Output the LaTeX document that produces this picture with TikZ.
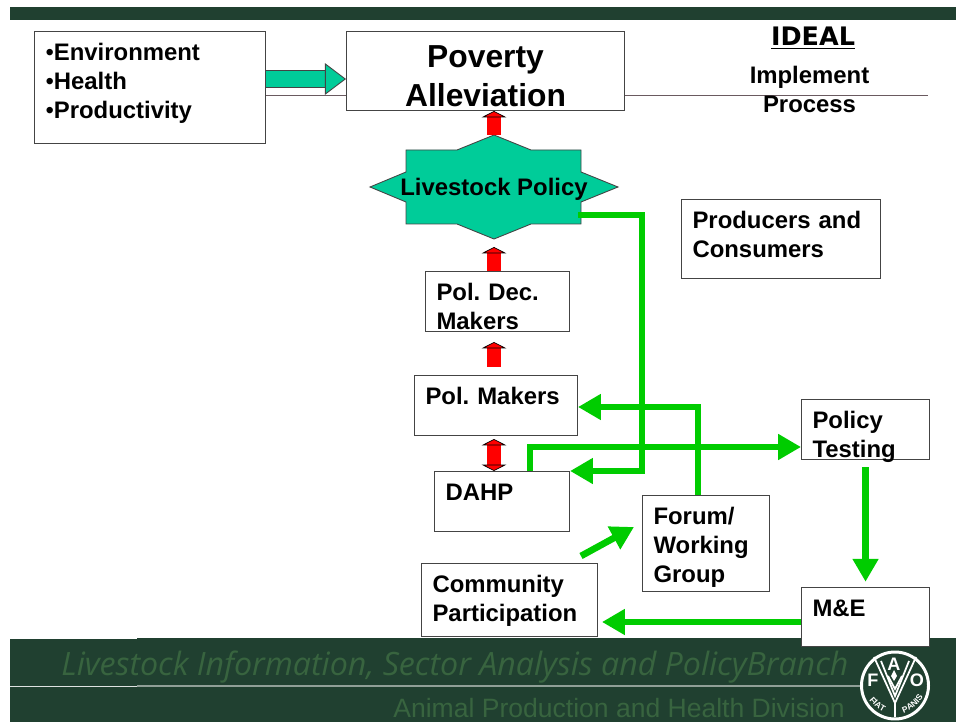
\documentclass[tikz,border=0pt]{standalone}
\usepackage{fontspec}
\setmainfont{Liberation Sans}
\newfontfamily\idealfont{DejaVu Sans}
\newfontfamily\footerfont{Open Sans}
\usetikzlibrary{positioning,arrows.meta,decorations.text}
\definecolor{slidegreen}{HTML}{204030}
\definecolor{footertext}{HTML}{38643F}
\definecolor{teal}{HTML}{00CC99}
\definecolor{flowgreen}{HTML}{00CC00}
\definecolor{rulecolor}{HTML}{6A5A60}
\definecolor{boxline}{HTML}{444444}
\tikzset{
    slidebox/.style 2 args={draw=boxline, fill=white, line width=0.6pt, anchor=north west,
        inner xsep={11*0.5692pt}, inner ysep=0pt, text width={(#1-23)*0.5692pt},
        text height={29*0.5692pt}, text depth={(#2-29)*0.5692pt}, align=left,
        font=\fontsize{13.6}{16.5}\selectfont\bfseries},
    flow/.style={draw=flowgreen, line width=3.8pt, -{Triangle[length=13pt,width=14pt]}},
    redup/.style={double=red, draw=black, line width=0.4pt, double distance=7.6pt,
        -{Triangle[length=3.6pt,width=14pt,fill=red,color=black,line width=0.4pt]}},
    redboth/.style={double=red, draw=black, line width=0.4pt, double distance=7.6pt,
        {Triangle[length=3.6pt,width=14pt,fill=red,color=black,line width=0.4pt]}-{Triangle[length=3.6pt,width=14pt,fill=red,color=black,line width=0.4pt]}},
    tealarrow/.style={double=teal, draw=boxline, line width=0.5pt, double distance=9pt,
        -{Triangle[length=12pt,width=18pt,fill=teal,color=boxline,line width=0.5pt]}},
    logoletter/.style={text=white, inner sep=0pt, font=\fontsize{10.3}{12}\selectfont\bfseries},
    logostroke/.style={draw=white, line width=1pt},
    logoarc/.style={decorate, decoration={text along path, text align=center,
        text={|\fontsize{4.8}{5}\selectfont\bfseries\color{white}|#1}}},
}
\begin{document}
\frenchspacing
\begin{tikzpicture}[x=0.02cm, y=-0.02cm]
    \useasboundingbox (0,0) rectangle (956,722);

    % slide bands
    \fill[slidegreen] (10,7) rectangle (956,20);
    \fill[slidegreen] (10,639) rectangle (956,722);
    \fill[slidegreen] (137,638) rectangle (956,640);
    \draw[white!85!slidegreen, line width=0.5pt] (10,686.5) -- (137,686.5);
    \draw[white!50!slidegreen, line width=1pt] (137,686) -- (862,686);

    % rule behind the top boxes
    \coordinate (rulestart) at (266,95);
    \coordinate (ruleend) at (928,95);
    \draw[rulecolor, line width=0.5pt] (rulestart) -- (ruleend);

    % top row
    \node[slidebox={232}{112}] (envbox) at (34,31) {{\mdseries •}Environment\\{\mdseries •}Health\\{\mdseries •}Productivity};
    \node[slidebox={279}{79}, text height={36*0.5692pt}, text depth={43*0.5692pt}, align=center,
        font=\fontsize{18.1}{22.2}\selectfont\bfseries] (povbox) at (346,31) {Poverty\\Alleviation};
    \node[font=\fontsize{14.5}{17}\selectfont\idealfont\bfseries] (ideal) at (813,38) {\underline{IDEAL}};
    \node[font=\fontsize{13.6}{16.5}\selectfont\bfseries, align=center] (implement) at (809.5,89.5) {Implement\\Process};
    \node[slidebox={200}{79}] (prodbox) at (681,199) {Producers and\\Consumers};

    % policy star
    \draw[draw=boxline, fill=teal, line width=0.5pt] (494,135) -- (531,150) -- (581,150) -- (581,172) -- (618,187)
        -- (581,202) -- (581,224) -- (531,224) -- (494,239) -- (457,224) -- (406,224) -- (406,202)
        -- (370,187) -- (406,172) -- (406,150) -- (457,150) -- cycle;
    \node[font=\fontsize{13.6}{16.5}\selectfont\bfseries] (policystar) at (494,189) {Livestock Policy};

    % left column
    \node[slidebox={145}{60}] (decbox) at (425,271) {Pol. Dec.\\Makers};
    \node[slidebox={164}{60}] (polbox) at (414,375) {Pol. Makers};
    \node[slidebox={136}{60}] (dahpbox) at (434,471) {DAHP};
    \node[slidebox={177}{73}] (commbox) at (421,563) {Community\\Participation};

    % right side
    \node[slidebox={128}{96}] (forumbox) at (642,495) {Forum/\\Working\\Group};
    \node[slidebox={129}{60}] (testbox) at (801,399) {Policy\\Testing};
    \node[slidebox={129}{59}] (mebox) at (801,587) {M\&E};

    % free ends
    \coordinate (starout) at (578,215);
    \coordinate (polin) at (578,407);
    \coordinate (dahpout) at (530,471);
    \coordinate (forumout) at (698,495);
    \coordinate (testin) at (801,447);
    \coordinate (meout) at (801,622);
    \coordinate (commin) at (602,622);
    \coordinate (commout) at (581,556);
    \coordinate (forumin) at (634,527);
    \coordinate (envout) at (266,79);
    \coordinate (povin) at (346,79);
    \coordinate (decfoot) at (494,271);
    \coordinate (startip) at (494,247);
    \coordinate (povtip) at (494,111);
    \coordinate (startop) at (494,135);
    \coordinate (dectip) at (494,342);
    \coordinate (polfoot) at (494,367);
    \coordinate (poltip) at (494,439);
    \coordinate (dahptop) at (494,471);

    % block arrows
    \draw[tealarrow] (envout) -- (povin);
    \draw[redup] (startop) -- (povtip);
    \draw[redup] (decfoot) -- (startip);
    \draw[redup] (polfoot) -- (dectip);
    \draw[redboth] (poltip) -- (dahptop);

    % green flows
    \draw[flow] (starout) -| (642,471) -- (dahpbox.north east);
    \draw[flow] (forumout) |- (polin);
    \draw[flow] (dahpout) |- (testin);
    \draw[flow, shorten <=4pt, shorten >=3pt] (testbox.south) -- (mebox.north);
    \draw[flow] (meout) -- (commin);
    \draw[flow] (commout) -- (forumin);

    % footer
    \node[font=\fontsize{18.3}{22}\selectfont\footerfont\itshape, text=footertext, anchor=base west, inner sep=0pt] (branch) at (61,675) {Livestock Information, Sector Analysis and PolicyBranch};
    \node[font=\fontsize{15.1}{18}\selectfont, text=footertext, anchor=base east, inner sep=0pt] (division) at (845,717) {Animal Production and Health Division};

    % logo
    \draw[white, fill=slidegreen, line width=1.7pt] (895,685.5) circle[radius=33.5];
    \foreach \dx/\topy/\boty in {21/657/703, 14/661/696, 7/676/689} {
        \draw[logostroke] ({895-\dx},\topy) -- (895,\boty) -- ({895+\dx},\topy);
    }
    \draw[white, line width=1.6pt] (895,701) -- (895,717);
    \fill[white] (894,670) -- (897,676) -- (894,681) -- (891,676) -- cycle;
    \node[logoletter] (logoF) at (873,680) {F};
    \node[logoletter] (logoA) at (894,664) {A};
    \node[logoletter] (logoO) at (917,680) {O};
    \path[postaction={logoarc={FIAT}}] (866,695) .. controls (871,704) and (879,711) .. (889,714);
    \path[postaction={logoarc={PANIS}}] (900,714) .. controls (910,712) and (919,705) .. (925,694);
\end{tikzpicture}
\end{document}
